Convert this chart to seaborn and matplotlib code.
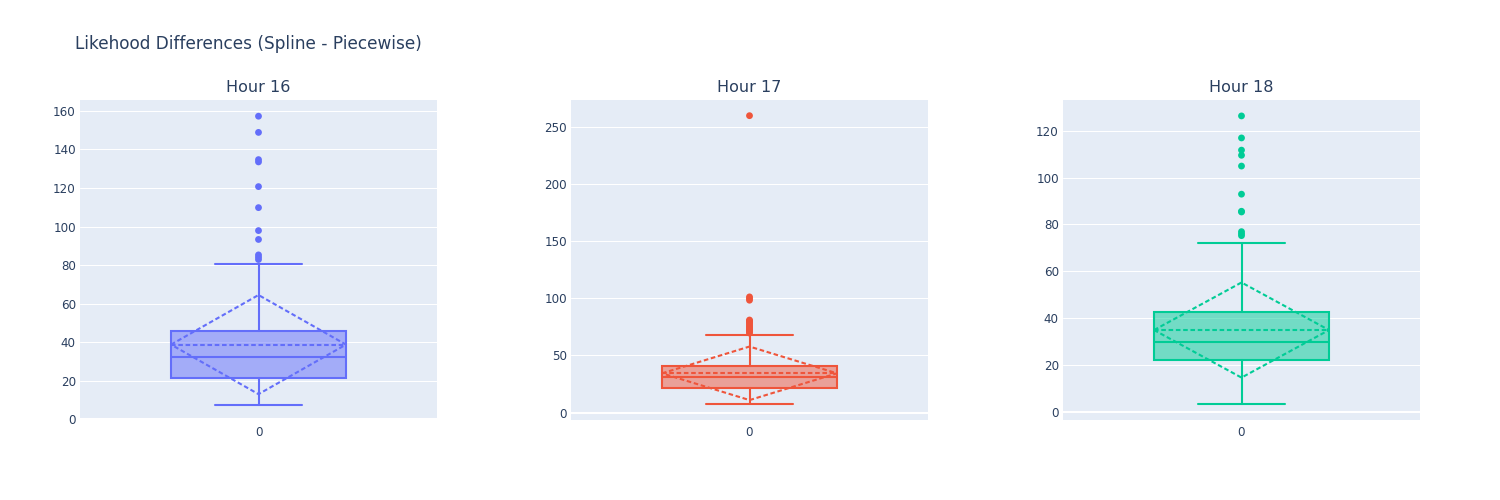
import numpy as np
import pandas as pd
import matplotlib
matplotlib.use("Agg")
import matplotlib.pyplot as plt
import seaborn as sns

# box statistics, one entry per hour
hours = [16, 17, 18]
q1 = [21.7, 21.9, 22.1]
medians = [32.6, 30.9, 29.9]
q3 = [45.9, 41.1, 42.7]
whisker_lo = [7.6, 7.9, 3.4]
whisker_hi = [80.8, 67.9, 71.9]
means = [38.8, 34.4, 34.9]
sds = [25.7, 23.4, 20.3]

outliers_16 = [157.2, 148.8, 134.7, 133.5, 120.7, 109.8, 97.9, 93.3, 85.3, 84.1, 82.9]
outliers_17 = [259.6, 101.2, 99.8, 98.3, 81.0, 80.2, 79.1, 78.0, 76.6, 75.4,
               74.2, 73.0, 72.0, 70.8, 69.6]
outliers_18 = [126.3, 116.9, 111.7, 109.5, 104.9, 92.9, 85.6, 85.3, 76.9, 76.0, 75.2]
outliers = [outliers_16, outliers_17, outliers_18]

y_limits = [(-0.3, 165.6), (-6.4, 273.3), (-3.5, 133.1)]
y_ticks = [np.arange(0, 161, 20), np.arange(0, 251, 50), np.arange(0, 121, 20)]
colors = ["#636efa", "#EF553B", "#00cc96"]

TEXT = "#2a3f5f"
BG = "#E5ECF6"
LW = 1.5  # ~2 px

sns.set_theme(style="darkgrid", rc={
    "axes.facecolor": BG,
    "grid.color": "white",
    "grid.linewidth": 0.75,
    "axes.edgecolor": BG,
})
plt.rcParams["font.family"] = ["DejaVu Sans"]

fig = plt.figure(figsize=(15, 5), dpi=100)
fig.patch.set_facecolor("white")

lefts = [80 / 1500, 571 / 1500, 1063 / 1500]
width = 357 / 1500
bottom = 1 - 420 / 500
height = 320 / 500

box_w = 0.49
half = box_w / 2

for i, h in enumerate(hours):
    ax = fig.add_axes([lefts[i], bottom, width, height])
    c = colors[i]
    stats = [{
        "med": medians[i], "q1": q1[i], "q3": q3[i],
        "whislo": whisker_lo[i], "whishi": whisker_hi[i],
        "fliers": [], "label": "0",
    }]
    ax.bxp(stats, positions=[0], widths=box_w, capwidths=half,
           patch_artist=True, showfliers=False,
           boxprops=dict(facecolor=matplotlib.colors.to_rgba(c, 0.5), edgecolor=c, linewidth=LW),
           medianprops=dict(color=c, linewidth=LW),
           whiskerprops=dict(color=c, linewidth=LW),
           capprops=dict(color=c, linewidth=LW))

    # mean line + sd diamond
    m, s = means[i], sds[i]
    dash = dict(color=c, linewidth=LW, linestyle=(0, (2.2, 1.3)))
    ax.plot([-half, half], [m, m], **dash)
    ax.plot([-half, 0, half, 0, -half], [m, m + s, m, m - s, m], **dash)

    pts = pd.DataFrame({"x": [0] * len(outliers[i]), "y": outliers[i]})
    sns.scatterplot(data=pts, x="x", y="y", ax=ax, color=c, s=24,
                    edgecolor="none", zorder=3)

    ax.axhline(0, color="white", linewidth=1.5, zorder=0.5)
    ax.set_xlim(-0.5, 0.5)
    ax.set_ylim(*y_limits[i])
    ax.set_yticks(y_ticks[i])
    ax.set_xticks([0])
    ax.set_xticklabels(["0"])
    ax.set_xlabel("")
    ax.set_ylabel("")
    ax.grid(axis="x", visible=False)
    ax.tick_params(length=0, labelsize=8.6, labelcolor=TEXT)
    ax.tick_params(axis="y", pad=3)
    ax.tick_params(axis="x", pad=4)
    for sp in ax.spines.values():
        sp.set_visible(False)
    ax.text(0.5, 1 + 12 / 320, f"Hour {h}", transform=ax.transAxes,
            ha="center", va="center", fontsize=11.5, color=TEXT)

fig.text(75 / 1500, 1 - 44 / 500, "Likehood Differences (Spline - Piecewise)",
         ha="left", va="center", fontsize=12.2, color=TEXT)

fig.savefig("out.png", dpi=100)
